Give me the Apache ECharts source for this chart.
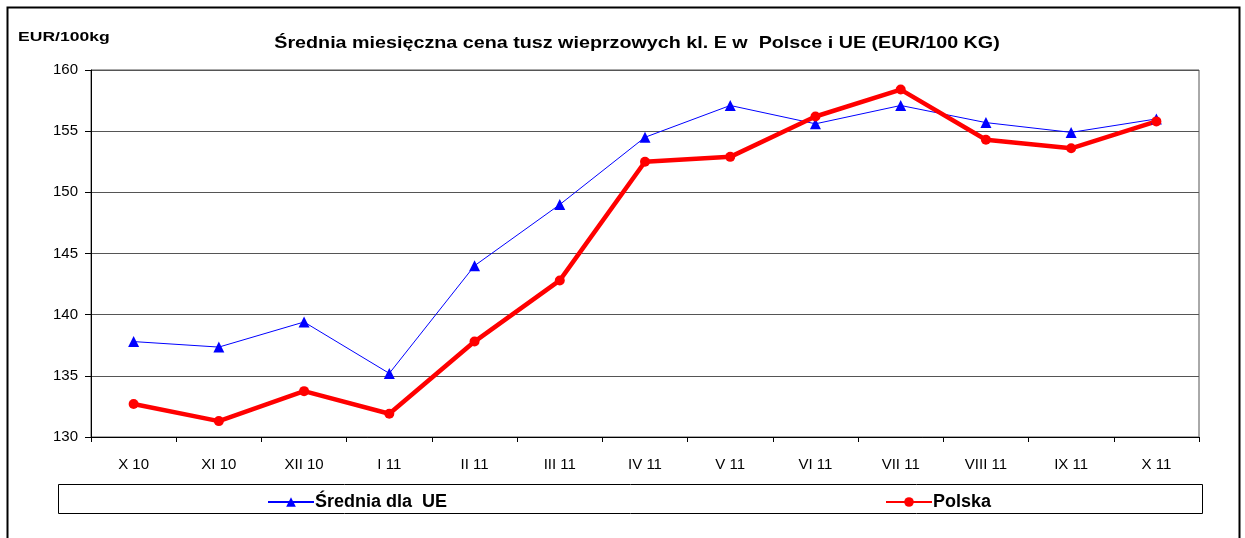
<!DOCTYPE html>
<html>
<head>
<meta charset="utf-8">
<script src="https://cdn.jsdelivr.net/npm/echarts@6/dist/echarts.min.js"></script>
<style>
  html, body { margin: 0; padding: 0; background: #fff; }
  #chart { width: 1245px; height: 538px; }
</style>
</head>
<body>
<div id="chart"></div>
<script>
// Miesięczne ceny tusz wieprzowych kl. E (EUR/100 kg)
const months = ["X 10", "XI 10", "XII 10", "I 11", "II 11", "III 11", "IV 11",
  "V 11", "VI 11", "VII 11", "VIII 11", "IX 11", "X 11"];
const sredniaUE = [137.8, 137.35, 139.4, 135.2, 144.0, 149.0, 154.5, 157.1, 155.6, 157.1, 155.7, 154.9, 156.0];
const polska = [132.7, 131.3, 133.75, 131.9, 137.8, 142.8, 152.5, 152.9, 156.2, 158.4, 154.3, 153.6, 155.8];

const FONT = "Liberation Sans, Arial, sans-serif";

const chart = echarts.init(document.getElementById("chart"), null, { renderer: "canvas" });

// the source picture is a bit stretched sideways, so the title texts get a scaleX
chart.setOption({
  animation: false,
  textStyle: { fontFamily: FONT, color: "#000" },
  graphic: [
    // outer frame
    { type: "rect", shape: { x: 7.5, y: 7.5, width: 1232, height: 545 },
      style: { fill: "none", stroke: "#000", lineWidth: 2 }, silent: true },
    // legend box
    { type: "rect", shape: { x: 58.5, y: 484.5, width: 1144, height: 29 },
      style: { fill: "none", stroke: "#000", lineWidth: 1 }, silent: true },
    { type: "text", x: 18, y: 44, scaleX: 1.3,
      style: { text: "EUR/100kg", font: "bold 13.5px " + FONT, fill: "#000",
        textAlign: "left", textVerticalAlign: "bottom" } },
    { type: "text", x: 637, y: 52, scaleX: 1.16,
      style: { text: "Średnia miesięczna cena tusz wieprzowych kl. E w  Polsce i UE (EUR/100 KG)",
        font: "bold 17px " + FONT, fill: "#000", textAlign: "center", textVerticalAlign: "bottom" } },
  ],
  legend: [
    { data: ["Średnia dla  UE"], left: 262, top: 488, itemWidth: 46, itemHeight: 12, itemGap: 4,
      textStyle: { fontFamily: FONT, fontSize: 18, fontWeight: "bold", color: "#000", padding: [0, 0, 0, -4] } },
    { data: ["Polska"], left: 880, top: 488, itemWidth: 46, itemHeight: 12, itemGap: 4,
      textStyle: { fontFamily: FONT, fontSize: 18, fontWeight: "bold", color: "#000", padding: [0, 0, 0, -4] } },
  ],
  grid: { left: 91, right: 46, top: 70, bottom: 101, show: true, borderColor: "#555", borderWidth: 1 },
  xAxis: {
    type: "category",
    data: months,
    boundaryGap: true,
    axisLine: { lineStyle: { color: "#000", width: 1 } },
    axisTick: { show: true, alignWithLabel: false, length: 5, lineStyle: { color: "#000" } },
    axisLabel: { fontFamily: FONT, fontSize: 15, color: "#000", margin: 20 },
  },
  yAxis: {
    type: "value",
    min: 130, max: 160, interval: 5,
    axisLine: { show: true, lineStyle: { color: "#000", width: 1 } },
    axisTick: { show: true, length: 6, lineStyle: { color: "#000" } },
    axisLabel: { fontFamily: FONT, fontSize: 15, color: "#000", margin: 13 },
    splitLine: { show: true, lineStyle: { color: "#555", width: 1 } },
  },
  series: [
    {
      name: "Średnia dla  UE", type: "line", data: sredniaUE,
      symbol: "triangle", symbolSize: 11,
      lineStyle: { color: "#0000ff", width: 1 },
      itemStyle: { color: "#0000ff" },
    },
    {
      name: "Polska", type: "line", data: polska,
      symbol: "circle", symbolSize: 10,
      lineStyle: { color: "#ff0000", width: 4.5 },
      itemStyle: { color: "#ff0000" },
    },
  ],
});
</script>
</body>
</html>
